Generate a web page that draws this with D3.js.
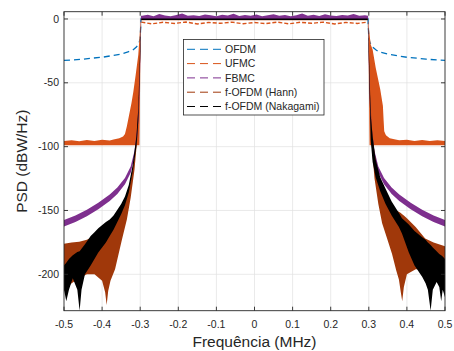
<!DOCTYPE html>
<html>
<head>
<meta charset="utf-8">
<script src="https://cdn.jsdelivr.net/npm/d3@7"></script>
<style>
  html, body { margin: 0; padding: 0; background: #fff; }
  svg { display: block; font-family: "Liberation Sans", Arial, Helvetica, sans-serif; }
</style>
</head>
<body>
<div id="chart"></div>
<script>
// ---- data (frequency in MHz, PSD in dBW/Hz) ----
const xTicks = [-0.5, -0.4, -0.3, -0.2, -0.1, 0, 0.1, 0.2, 0.3, 0.4, 0.5];
const yTicks = [0, -50, -100, -150, -200];
const seriesNames = ['OFDM', 'UFMC', 'FBMC', 'f-OFDM (Hann)', 'f-OFDM (Nakagami)'];
const seriesColors = ['#0072BD', '#D95319', '#7E2F8E', '#A0380A', '#000000'];

const ofdmFreq = [-0.5, -0.45, -0.43, -0.40, -0.38, -0.35, -0.33, -0.32, -0.31, -0.303, -0.300, -0.299, -0.298,
                  0.298, 0.299, 0.300, 0.303, 0.31, 0.32, 0.33, 0.35, 0.38, 0.40, 0.43, 0.45, 0.5];
const ofdmDb = [-32.5, -31.5, -30.8, -30, -29, -27.5, -25.5, -24.5, -22, -19, -15, -8, 0,
                0, -8, -15, -18.5, -22, -24.5, -26, -27.5, -29, -30, -30.8, -31.5, -32.5];

const ufmcLeftFreq = [-0.5, -0.48, -0.46, -0.44, -0.42, -0.40, -0.38, -0.37, -0.355, -0.345, -0.34, -0.335, -0.329,
                      -0.323, -0.318, -0.312, -0.305, -0.302, -0.3005, -0.299, -0.298];
const ufmcLeftHigh = [-95.5, -95, -95.8, -94.8, -95.5, -94.6, -95.2, -94.5, -93.5, -92, -90, -84, -75,
                      -66, -57, -44, -28, -15, -8, -2, -2];
const ufmcLeftLow = [-99, -99, -99, -99, -99, -99, -99, -99, -99, -99, -99, -99, -99,
                     -99, -99, -99, -99, -99, -60, -10, -3];
const ufmcRightFreq = [0.298, 0.299, 0.3005, 0.302, 0.305, 0.31, 0.318, 0.33, 0.337, 0.339, 0.3405, 0.345,
                       0.355, 0.37, 0.38, 0.40, 0.42, 0.44, 0.46, 0.48, 0.5];
const ufmcRightHigh = [-2, -2, -8, -12, -20, -24, -38, -55, -68, -80, -88, -91,
                       -93.5, -94.5, -95, -94.6, -95.5, -94.8, -95.6, -95, -95.5];
const ufmcRightLow = [-3, -10, -60, -99, -99, -99, -99, -99, -99, -99, -99, -99,
                      -99, -99, -99, -99, -99, -99, -99, -99, -99];
const ufmcPassFreq = [-0.297, -0.27, -0.24, -0.21, -0.18, -0.15, -0.12, -0.09, -0.06, -0.03, 0,
                      0.03, 0.06, 0.09, 0.12, 0.15, 0.18, 0.21, 0.24, 0.27, 0.297];
const ufmcPassDb = [-2.5, -3.8, -2.6, -3.5, -2.4, -3.9, -2.7, -3.4, -2.5, -3.7, -2.8,
                    -3.6, -2.5, -3.8, -2.6, -3.4, -2.5, -3.9, -2.7, -3.5, -2.5];

const fbmcFreq = [-0.5, -0.47, -0.44, -0.41, -0.38, -0.36, -0.34, -0.325, -0.315, -0.308, -0.304, -0.301, -0.299, -0.298,
  -0.295, -0.28, -0.265, -0.25, -0.235, -0.22, -0.205, -0.19, -0.175, -0.16, -0.145, -0.13, -0.115, -0.10, -0.085,
  -0.07, -0.055, -0.04, -0.025, -0.01, 0.005, 0.02, 0.035, 0.05, 0.065, 0.08, 0.095, 0.11, 0.125, 0.14, 0.155,
  0.17, 0.185, 0.20, 0.215, 0.23, 0.245, 0.26, 0.275, 0.29,
  0.298, 0.299, 0.301, 0.304, 0.308, 0.315, 0.325, 0.34, 0.36, 0.38, 0.41, 0.44, 0.47, 0.5];
const fbmcHigh = [-157.5, -154, -149.5, -144, -137.5, -132, -124.5, -115.5, -103.5, -86, -67, -39, -9, 2.5,
  2.6, 3.4, 2.2, 3.9, 2.8, 2.1, 3.1, 4.2, 2.5, 3.0, 2.3, 3.6, 2.9, 2.2, 3.3,
  2.7, 4.0, 2.4, 3.1, 2.6, 3.5, 2.2, 2.9, 3.8, 2.5, 3.2, 2.1, 3.0, 4.3, 2.6, 3.3,
  2.4, 3.7, 2.8, 2.3, 3.2, 2.7, 3.9, 2.5, 3.0,
  2.5, -9, -39, -67, -86, -103.5, -115.5, -124.5, -132, -137.5, -144, -149.5, -154, -157.5];
const fbmcLow = [-162.5, -159, -154.5, -149, -142.5, -137, -129.5, -120.5, -108.5, -94, -77, -51, -21, -0.5,
  -0.5, -0.5, -0.5, -0.5, -0.5, -0.5, -0.5, -0.5, -0.5, -0.5, -0.5, -0.5, -0.5, -0.5, -0.5,
  -0.5, -0.5, -0.5, -0.5, -0.5, -0.5, -0.5, -0.5, -0.5, -0.5, -0.5, -0.5, -0.5, -0.5, -0.5, -0.5,
  -0.5, -0.5, -0.5, -0.5, -0.5, -0.5, -0.5, -0.5, -0.5,
  -0.5, -21, -51, -77, -94, -108.5, -120.5, -129.5, -137, -142.5, -149, -154.5, -159, -162.5];

const hannFreq = [-0.5, -0.48, -0.46, -0.44, -0.42, -0.40, -0.392, -0.388, -0.384, -0.378, -0.366, -0.348, -0.335,
  -0.325, -0.315, -0.308, -0.303, -0.300, -0.298,
  0.298, 0.300, 0.303, 0.308, 0.315, 0.325, 0.335, 0.348, 0.361, 0.372, 0.379, 0.384, 0.3877, 0.392, 0.40,
  0.423, 0.448, 0.47, 0.5];
const hannHigh = [-176, -175, -174.5, -173, -170, -166, -164, -163, -162, -160, -157, -148, -138,
  -126, -108, -88, -58, -25, 0,
  0, -25, -58, -85, -105, -122, -135, -143, -148, -150, -151, -152, -153, -154, -156,
  -163, -172, -175, -178];
const hannLow = [-213, -207, -203, -200, -200, -205, -214, -224, -213, -205, -196, -173, -157,
  -140, -118, -95, -62, -30, -1,
  -1, -30, -62, -100, -125, -145, -160, -172, -184, -197, -204, -214, -221, -210, -200,
  -196, -196, -198, -200];

const nakaFreq = [-0.5, -0.494, -0.487, -0.477, -0.465, -0.459, -0.454, -0.445, -0.43, -0.42, -0.41, -0.39, -0.38,
  -0.37, -0.35, -0.34, -0.33, -0.32, -0.31, -0.305, -0.30, -0.297,
  0.297, 0.30, 0.305, 0.31, 0.318, 0.33, 0.344, 0.36, 0.379, 0.387, 0.405, 0.42, 0.44, 0.449, 0.455,
  0.4623, 0.468, 0.478, 0.485, 0.49, 0.494, 0.5];
const nakaHigh = [-193, -191, -188, -185, -182.5, -182, -180, -176.5, -170, -167, -164, -159, -157,
  -154, -145, -139, -130, -115, -92, -70, -20, 0.3,
  0.3, -20, -75, -92, -110, -124, -133, -143, -152, -156, -161, -166, -171, -173, -175,
  -177, -179, -182, -184, -185, -186, -188];
const nakaLow = [-212, -221, -212, -203, -212, -228.5, -212, -200, -193, -188, -183, -175, -170,
  -165, -153, -146, -136, -120, -100, -80, -30, -0.8,
  -0.8, -30, -95, -112, -124, -135, -145, -154, -163, -168, -183, -193, -202, -207, -212,
  -228.5, -212, -206, -210, -221, -212, -218];

// ---- layout ----
const W = 454, H = 351;
const plot = { left: 64, right: 445, top: 11.7, bottom: 310.7 };
const ink = '#262626';

const x = d3.scaleLinear().domain([-0.5, 0.5]).range([plot.left, plot.right]);
const y = d3.scaleLinear().domain([-228.5, 5.7]).range([plot.bottom, plot.top]);

const svg = d3.select('#chart').append('svg')
  .attr('width', W).attr('height', H)
  .attr('viewBox', `0 0 ${W} ${H}`);

svg.append('defs').append('clipPath').attr('id', 'clip')
  .append('rect')
  .attr('x', plot.left).attr('y', plot.top)
  .attr('width', plot.right - plot.left).attr('height', plot.bottom - plot.top);

// grid
const grid = svg.append('g').attr('stroke', '#e1e1e1').attr('stroke-width', 0.7);
grid.selectAll('.gx').data(xTicks.slice(1, -1)).join('line')
  .attr('x1', d => x(d)).attr('x2', d => x(d))
  .attr('y1', plot.top).attr('y2', plot.bottom);
grid.selectAll('.gy').data(yTicks).join('line')
  .attr('x1', plot.left).attr('x2', plot.right)
  .attr('y1', d => y(d)).attr('y2', d => y(d));

const data = svg.append('g').attr('clip-path', 'url(#clip)');

const band = (freq, high, low) => d3.area()
  .x((_, i) => x(freq[i]))
  .y0((_, i) => y(low[i]))
  .y1((_, i) => y(high[i]))(freq);

const line = (freq, db) => d3.line()
  .x((_, i) => x(freq[i]))
  .y((_, i) => y(db[i]))(freq);

// OFDM
data.append('path')
  .attr('d', line(ofdmFreq, ofdmDb))
  .attr('fill', 'none').attr('stroke', seriesColors[0])
  .attr('stroke-width', 1.3).attr('stroke-dasharray', '6,4');

// UFMC
data.append('path').attr('d', band(ufmcLeftFreq, ufmcLeftHigh, ufmcLeftLow)).attr('fill', seriesColors[1]);
data.append('path').attr('d', band(ufmcRightFreq, ufmcRightHigh, ufmcRightLow)).attr('fill', seriesColors[1]);
data.append('path')
  .attr('d', line(ufmcPassFreq, ufmcPassDb))
  .attr('fill', 'none').attr('stroke', seriesColors[1])
  .attr('stroke-width', 1.4).attr('stroke-dasharray', '4,2');

// FBMC
data.append('path').attr('d', band(fbmcFreq, fbmcHigh, fbmcLow)).attr('fill', seriesColors[2]);

// f-OFDM (Hann)
data.append('path').attr('d', band(hannFreq, hannHigh, hannLow)).attr('fill', seriesColors[3]);

// f-OFDM (Nakagami)
data.append('path').attr('d', band(nakaFreq, nakaHigh, nakaLow)).attr('fill', seriesColors[4]);

// box and ticks (MATLAB style, ticks inside on all sides)
svg.append('rect')
  .attr('x', plot.left).attr('y', plot.top)
  .attr('width', plot.right - plot.left).attr('height', plot.bottom - plot.top)
  .attr('fill', 'none').attr('stroke', ink).attr('stroke-width', 0.9);

const tl = 4;
const ticks = svg.append('g').attr('stroke', ink).attr('stroke-width', 0.9);
xTicks.forEach(t => {
  ticks.append('line').attr('x1', x(t)).attr('x2', x(t)).attr('y1', plot.bottom).attr('y2', plot.bottom - tl);
  ticks.append('line').attr('x1', x(t)).attr('x2', x(t)).attr('y1', plot.top).attr('y2', plot.top + tl);
});
yTicks.forEach(t => {
  ticks.append('line').attr('x1', plot.left).attr('x2', plot.left + tl).attr('y1', y(t)).attr('y2', y(t));
  ticks.append('line').attr('x1', plot.right).attr('x2', plot.right - tl).attr('y1', y(t)).attr('y2', y(t));
});

const fmtX = d => d === 0 ? '0' : d.toFixed(1);
svg.append('g').selectAll('text').data(xTicks).join('text')
  .attr('x', d => x(d)).attr('y', plot.bottom + 17)
  .attr('text-anchor', 'middle')
  .attr('font-size', 10.5).attr('fill', ink)
  .text(fmtX);

svg.append('g').selectAll('text').data(yTicks).join('text')
  .attr('x', plot.left - 5).attr('y', d => y(d))
  .attr('dy', '0.35em')
  .attr('text-anchor', 'end')
  .attr('font-size', 10.5).attr('fill', ink)
  .text(d => String(d));

svg.append('text')
  .attr('x', (plot.left + plot.right) / 2).attr('y', 347)
  .attr('text-anchor', 'middle')
  .attr('font-size', 15.5).attr('fill', ink)
  .text('Frequência (MHz)');

svg.append('text')
  .attr('transform', `translate(22, ${(plot.top + plot.bottom) / 2}) rotate(-90)`)
  .attr('dy', '0.35em')
  .attr('text-anchor', 'middle')
  .attr('font-size', 15.5).attr('fill', ink)
  .text('PSD (dBW/Hz)');

// legend
const lg = svg.append('g').attr('transform', 'translate(183.5, 39.5)');
lg.append('rect')
  .attr('width', 140.5).attr('height', 75.5)
  .attr('fill', '#fff').attr('stroke', ink).attr('stroke-width', 0.8);
seriesNames.forEach((name, i) => {
  const yy = 9.8 + i * 14.3;
  lg.append('line')
    .attr('x1', 3.5).attr('x2', 39.5).attr('y1', yy).attr('y2', yy)
    .attr('stroke', seriesColors[i]).attr('stroke-width', 1)
    .attr('stroke-dasharray', '8,5');
  lg.append('text')
    .attr('x', 41.5).attr('y', yy).attr('dy', '0.35em')
    .attr('font-size', 10.5).attr('fill', ink)
    .text(name);
});
</script>
</body>
</html>
